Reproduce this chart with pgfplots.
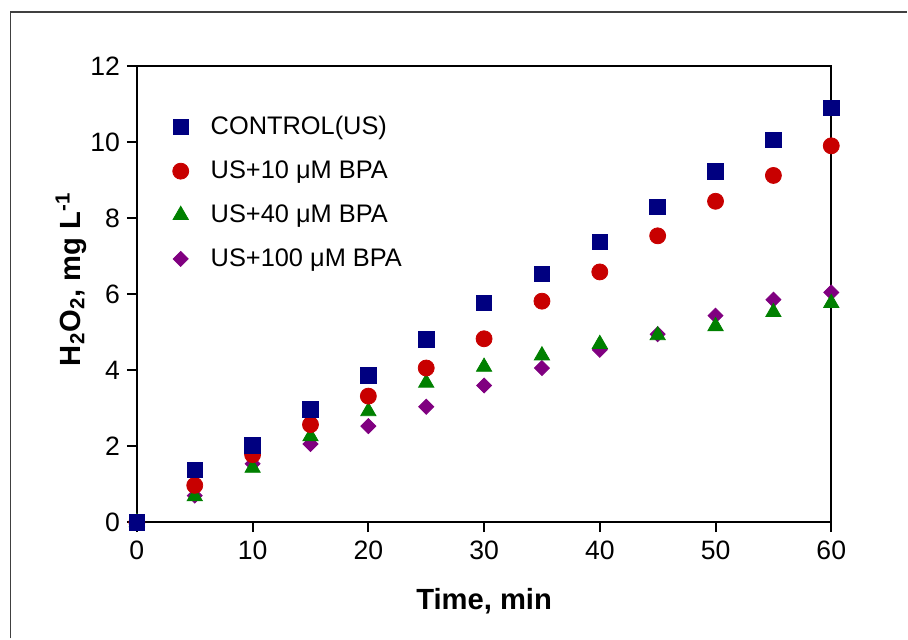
\documentclass[border=0pt]{standalone}
\usepackage{pgfplots}
\pgfplotsset{compat=1.18}
\usepackage{fontspec}
\setmainfont{Liberation Sans}

\definecolor{cnavy}{RGB}{0,0,128}
\definecolor{cred}{RGB}{200,0,0}
\definecolor{cgreen}{RGB}{0,128,0}
\definecolor{cpurple}{RGB}{128,0,128}

\begin{document}
\begin{tikzpicture}
\begin{axis}[
  at={(0pt,0pt)}, anchor=south west,
  scale only axis,
  width=347.5pt, height=228.1pt,
  xmin=0, xmax=60, ymin=0, ymax=12,
  xtick={0,10,...,60}, ytick={0,2,...,12},
  tick align=outside, xtick pos=bottom, ytick pos=left,
  major tick length=5pt,
  axis line style={line width=1pt},
  every tick/.style={line width=1pt, black},
  clip=false,
  /pgf/number format/assume math mode=true,
  tick label style={font=\fontsize{13.3pt}{15pt}\selectfont},
  xticklabel style={yshift=-1pt},
  xlabel={\textbf{Time, min}},
  ylabel={\textbf{H\textsubscript{2}O\textsubscript{2}, mg L\textsuperscript{-1}}},
  label style={font=\fontsize{14.6pt}{18pt}\selectfont},
  xlabel style={at={(axis description cs:0.5,0)}, anchor=center, yshift=-39.5pt},
  ylabel style={at={(axis description cs:-0.095,0.533)}, anchor=center},
  reverse legend,
  legend style={draw=none, fill=none, at={(axis cs:3.7,10.41)}, anchor=west,
    xshift=-10pt, yshift=-33pt,
    font=\fontsize{12.7pt}{14pt}\selectfont,
    row sep=7.6pt, cells={anchor=west}},
  legend image code/.code={\path (0cm,0cm) (0.7cm,0cm);\draw[mark repeat=2,mark phase=2] plot coordinates {(0cm,0cm) (0.25cm,0cm) (0.7cm,0cm)};},
  legend cell align=left,
]
\addplot[only marks, mark=square*, mark size=2.65pt, color=cpurple, mark options={rotate=45}]
  coordinates {(0,0) (5,0.7) (10,1.54) (15,2.06) (20,2.53) (25,3.04) (30,3.6) (35,4.06) (40,4.54) (45,4.95) (50,5.44) (55,5.86) (60,6.05)};
\addlegendentry{US+100 μM BPA}
\addplot[only marks, mark=triangle*, mark size=4.4pt, color=cgreen]
  coordinates {(0,0) (5,0.68) (10,1.43) (15,2.26) (20,2.92) (25,3.67) (30,4.09) (35,4.39) (40,4.69) (45,4.92) (50,5.16) (55,5.53) (60,5.77)};
\addlegendentry{US+40 μM BPA}
\addplot[only marks, mark=*, mark size=4pt, color=cred]
  coordinates {(0,0) (5,0.97) (10,1.78) (15,2.57) (20,3.32) (25,4.06) (30,4.83) (35,5.82) (40,6.59) (45,7.54) (50,8.45) (55,9.13) (60,9.91)};
\addlegendentry{US+10 μM BPA}
\addplot[only marks, mark=square*, mark size=3.9pt, color=cnavy]
  coordinates {(0,0) (5,1.38) (10,2.02) (15,2.97) (20,3.86) (25,4.81) (30,5.77) (35,6.54) (40,7.38) (45,8.3) (50,9.24) (55,10.07) (60,10.91)};
\addlegendentry{CONTROL(US)}
\end{axis}
\draw[line width=0.8pt, black!75] (-63.25pt,-58.15pt) -- (-63.25pt,255.35pt) -- (385.5pt,255.35pt);
\useasboundingbox (-68.5pt,-58.15pt) rectangle (385.5pt,261.35pt);
\end{tikzpicture}
\end{document}
